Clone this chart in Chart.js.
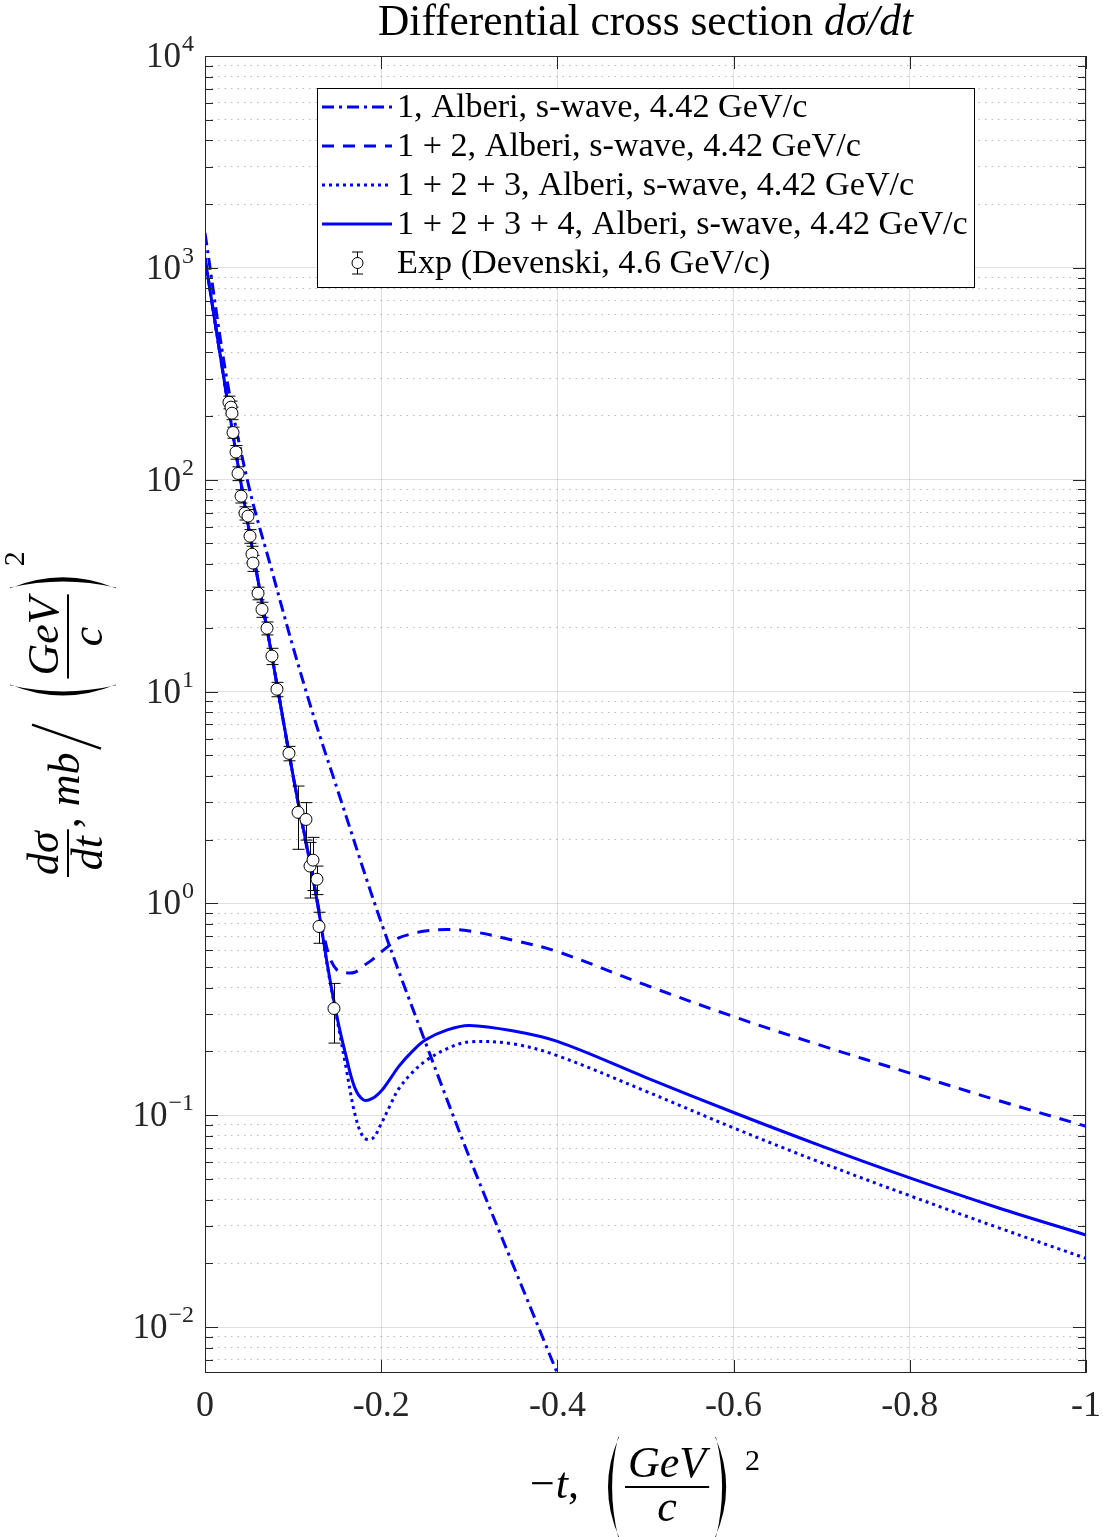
<!DOCTYPE html>
<html lang="en">
<head>
<meta charset="UTF-8">
<title>Differential cross section</title>
<script src="https://cdn.jsdelivr.net/npm/chart.js"></script>
<style>
  body { margin: 0; background: #fff; }
  #grafico { display: block; }
</style>
</head>
<body>
<canvas id="grafico" width="1103" height="1537"></canvas>
<script>
// -t grid for the summed curves
const tCurva = [0, -0.025, -0.05, -0.075, -0.1, -0.125, -0.14, -0.15, -0.16, -0.17, -0.18, -0.19,
                -0.2, -0.21, -0.22, -0.235, -0.25, -0.275, -0.3, -0.35, -0.4,
                -0.5, -0.6, -0.7, -0.8, -0.9, -1.0];
const soma12 = [1112, 243, 57.5, 15.5, 4.0, 1.16, 0.58, 0.483, 0.47, 0.473, 0.507, 0.543,
                0.59, 0.637, 0.687, 0.719, 0.741, 0.753, 0.741, 0.670, 0.592,
                0.412, 0.292, 0.213, 0.158, 0.1175, 0.0887];
const soma123 = [1112, 243, 57.5, 15.5, 4.0, 1.16, 0.475, 0.283, 0.169, 0.102, 0.0785, 0.0776,
                 0.0912, 0.111, 0.1334, 0.1585, 0.180, 0.2065, 0.222, 0.217, 0.191,
                 0.130, 0.0871, 0.0596, 0.0417, 0.0295, 0.0211];
const soma1234 = [1112, 243, 57.5, 15.5, 4.0, 1.16, 0.483, 0.289, 0.191, 0.135, 0.118, 0.120,
                  0.130, 0.148, 0.170, 0.1995, 0.2265, 0.253, 0.2655, 0.250, 0.223,
                  0.151, 0.103, 0.0715, 0.0506, 0.0366, 0.0272];

// term 1 alone (dash-dot), own grid
const tTermo1 = [0, -0.025, -0.05, -0.075, -0.1, -0.125, -0.15, -0.2, -0.25, -0.3, -0.35, -0.4, -0.42];
const termo1 = [1459, 295, 92, 38.4, 16.2, 7.26, 3.48, 0.813, 0.222, 0.0634, 0.0195, 0.00604, 0.0038];

// Devenski data
const expT = [-0.0272, -0.0295, -0.0306, -0.0318, -0.0352, -0.0375, -0.0409, -0.0454, -0.0488, -0.0511,
              -0.0533, -0.0545, -0.0602, -0.0647, -0.0704, -0.0760, -0.0817, -0.0953, -0.1056, -0.1146,
              -0.1192, -0.1226, -0.1271, -0.1294, -0.1464];
const expVal = [232, 220, 206, 167, 135, 107, 83.6, 69.5, 67.3, 54.1,
                44.5, 40.4, 29.1, 24.4, 19.9, 14.7, 10.25, 5.11, 2.69, 2.49,
                1.50, 1.60, 1.30, 0.778, 0.319];
const expErr = [16, 15, 14, 10, 10, 8, 6, 5, 5, 4,
                4, 3.5, 2, 2, 1.4, 1.3, 0.8, 0.4, 0.89, 0.5,
                0.44, 0.45, 0.2, 0.13, 0.1];

// axes
const xTicks = [0, -0.2, -0.4, -0.6, -0.8, -1];
const yExpoentes = [-2, -1, 0, 1, 2, 3, 4];
const yMin = 0.00607, yMax = 10000;

const fonte = '"Liberation Serif", "DejaVu Serif", serif';
function fnt(size, italic) { return (italic ? 'italic ' : '') + size + 'px ' + fonte; }
const eixoCor = '#262626';

function ehDecada(v) {
  const l = Math.log10(v);
  return Math.abs(l - Math.round(l)) < 1e-6;
}

const yTicks = [];
for (let e = -3; e <= 3; e++) {
  for (let m = 1; m <= 9; m++) {
    const v = m * Math.pow(10, e);
    if (v >= yMin && v <= yMax) yTicks.push(v);
  }
}
yTicks.push(10000);

function pares(ts, vs) { return ts.map((t, i) => ({ x: t, y: vs[i] })); }

const supers = { '-': '\u2212' };
function supTxt(e) { return String(e).split('').map(c => supers[c] || c).join(''); }

// parenthesis shape (crescent), dir 1 = "(", -1 = ")"
function parentese(ctx, x, cy, h, w, dir) {
  const top = cy - h / 2, bot = cy + h / 2;
  ctx.beginPath();
  ctx.moveTo(x, top);
  ctx.quadraticCurveTo(x - dir * 2 * w, cy, x, bot);
  ctx.lineTo(x - dir * 0.8, bot);
  ctx.quadraticCurveTo(x - dir * (2 * w - 9), cy, x - dir * 0.8, top);
  ctx.closePath();
  ctx.fill();
}

// GeV over c, horizontally; barY = fraction bar
function fracGeV(ctx, x0, barY, size) {
  ctx.font = fnt(size, true);
  const wn = ctx.measureText('GeV').width;
  const wd = ctx.measureText('c').width;
  const fw = Math.max(wn, wd) + 6;
  ctx.textAlign = 'center';
  ctx.fillText('GeV', x0 + fw / 2, barY - 10);
  ctx.fillText('c', x0 + fw / 2, barY + 34);
  ctx.fillRect(x0, barY - 1, fw, 2);
  ctx.textAlign = 'left';
  return fw;
}

const decoracao = {
  id: 'decoracao',
  beforeDatasetDraw(chart, args) {
    const ds = chart.data.datasets[args.index];
    if (!ds.barras) return;
    const ctx = chart.ctx, xs = chart.scales.x, ys = chart.scales.y;
    ctx.save();
    ctx.strokeStyle = '#000';
    ctx.lineWidth = 1;
    ds.barras.forEach(b => {
      const x = Math.round(xs.getPixelForValue(b.x)) + 0.5;
      const y1 = ys.getPixelForValue(b.y + b.e);
      const y2 = ys.getPixelForValue(b.y - b.e);
      ctx.beginPath();
      ctx.moveTo(x, y1); ctx.lineTo(x, y2);
      ctx.moveTo(x - 6, y1); ctx.lineTo(x + 6, y1);
      ctx.moveTo(x - 6, y2); ctx.lineTo(x + 6, y2);
      ctx.stroke();
    });
    ctx.restore();
  },
  afterDraw(chart) {
    const ctx = chart.ctx, a = chart.chartArea, xs = chart.scales.x, ys = chart.scales.y;
    ctx.save();
    // box and inward ticks
    ctx.strokeStyle = eixoCor;
    ctx.lineWidth = 1;
    ctx.strokeRect(a.left + 0.5, a.top + 0.5, a.right - a.left - 1, a.bottom - a.top - 1);
    ctx.beginPath();
    yTicks.forEach(v => {
      const y = Math.round(ys.getPixelForValue(v)) + 0.5;
      const len = ehDecada(v) ? 13 : 8;
      ctx.moveTo(a.left, y); ctx.lineTo(a.left + len, y);
      ctx.moveTo(a.right, y); ctx.lineTo(a.right - len, y);
    });
    xTicks.forEach(v => {
      const x = Math.round(xs.getPixelForValue(v)) + 0.5;
      ctx.moveTo(x, a.bottom); ctx.lineTo(x, a.bottom - 13);
      ctx.moveTo(x, a.top); ctx.lineTo(x, a.top + 13);
    });
    ctx.stroke();

    // y tick labels 10^n
    ctx.fillStyle = eixoCor;
    ctx.textBaseline = 'alphabetic';
    ctx.textAlign = 'left';
    yExpoentes.forEach(e => {
      const y = ys.getPixelForValue(Math.pow(10, e));
      const s = supTxt(e);
      ctx.font = fnt(24, false);
      const ws = ctx.measureText(s).width;
      ctx.font = fnt(35, false);
      const w10 = ctx.measureText('10').width;
      const x0 = 194 - ws - w10 - 1;
      ctx.fillText('10', x0, y + 11);
      ctx.font = fnt(24, false);
      ctx.fillText(s, x0 + w10 + 1, y - 5);
    });

    // title
    ctx.fillStyle = '#000';
    const t1 = 'Differential cross section ', t2 = 'd\u03c3/dt';
    ctx.font = fnt(36, false);
    let w1 = ctx.measureText(t1).width;
    ctx.font = fnt(36, true);
    let w2 = ctx.measureText(t2).width;
    const ts = 36 * 535 / (w1 + w2);
    ctx.font = fnt(ts, false); w1 = ctx.measureText(t1).width;
    ctx.font = fnt(ts, true); w2 = ctx.measureText(t2).width;
    let tx = 645.5 - (w1 + w2) / 2;
    ctx.font = fnt(ts, false); ctx.fillText(t1, tx, 35);
    ctx.font = fnt(ts, true); ctx.fillText(t2, tx + w1, 35);

    // x label: -t, (GeV/c)^2
    const ls = 44;
    const barX = 1487;
    ctx.font = fnt(ls, false);
    ctx.fillText('\u2212', 530, barX + 11);
    let px = 530 + ctx.measureText('\u2212').width;
    ctx.font = fnt(ls, true);
    ctx.fillText('t', px + 1, barX + 11);
    px += ctx.measureText('t').width + 1;
    ctx.font = fnt(ls, false);
    ctx.fillText(',', px, barX + 11);
    parentese(ctx, 619, barX, 100, 11, 1);
    const fwx = fracGeV(ctx, 625, barX, ls);
    parentese(ctx, 625 + fwx + 6, barX, 100, 11, -1);
    ctx.font = fnt(30, false);
    ctx.fillText('2', 745, 1470);

    // y label (rotated)
    ctx.save();
    ctx.translate(68, 877);
    ctx.rotate(-Math.PI / 2);
    ctx.font = fnt(ls, true);
    const wn = Math.max(ctx.measureText('d\u03c3').width, ctx.measureText('dt').width) + 4;
    ctx.textAlign = 'center';
    ctx.fillText('d\u03c3', wn / 2, -10);
    ctx.fillText('dt', wn / 2, 34);
    ctx.fillRect(0, -1, wn, 2);
    ctx.textAlign = 'left';
    let u = wn + 1;
    ctx.font = fnt(ls, false);
    ctx.fillText(',', u, 11);
    u += ctx.measureText(', ').width;
    ctx.font = fnt(ls, true);
    ctx.fillText('mb', u, 11);
    u += ctx.measureText('mb').width + 4;
    ctx.lineWidth = 2.4;
    ctx.strokeStyle = '#000';
    ctx.beginPath();
    ctx.moveTo(u, 33); ctx.lineTo(u + 24, -36);
    ctx.stroke();
    u += 46;
    parentese(ctx, u + 18, -5, 106, 11, 1);
    const fwy = fracGeV(ctx, u + 24, 0, ls);
    parentese(ctx, u + 24 + fwy + 6, -5, 106, 11, -1);
    ctx.font = fnt(30, false);
    ctx.fillText('2', u + 24 + fwy + 28, -44);
    ctx.restore();

    // legend
    const lx = 317, ly = 88, lw = 657, lh = 199;
    ctx.fillStyle = '#fff';
    ctx.fillRect(lx, ly, lw, lh);
    ctx.strokeStyle = '#000';
    ctx.lineWidth = 1;
    ctx.strokeRect(lx + 0.5, ly + 0.5, lw, lh);
    const ordem = [1, 2, 3, 4, 0];
    const textos = ordem.map(i => chart.data.datasets[i].label);
    ctx.font = fnt(30, false);
    const maior = Math.max(...textos.map(s => ctx.measureText(s).width));
    const fs = 30 * 571 / maior;
    ordem.forEach((i, k) => {
      const ds = chart.data.datasets[i];
      const cy = 107 + k * 39;
      if (ds.barras) {
        ctx.strokeStyle = '#000';
        ctx.lineWidth = 1;
        ctx.setLineDash([]);
        ctx.beginPath();
        ctx.moveTo(357.5, cy - 11); ctx.lineTo(357.5, cy + 11);
        ctx.moveTo(352, cy - 11); ctx.lineTo(363, cy - 11);
        ctx.moveTo(352, cy + 11); ctx.lineTo(363, cy + 11);
        ctx.stroke();
        ctx.fillStyle = '#fff';
        ctx.beginPath();
        ctx.arc(357.5, cy, 5.5, 0, Math.PI * 2);
        ctx.fill(); ctx.stroke();
      } else {
        ctx.strokeStyle = ds.borderColor;
        ctx.lineWidth = ds.borderWidth;
        ctx.setLineDash(ds.borderDash || []);
        ctx.beginPath();
        ctx.moveTo(322, cy); ctx.lineTo(392, cy);
        ctx.stroke();
        ctx.setLineDash([]);
      }
      ctx.fillStyle = '#000';
      ctx.font = fnt(fs, false);
      ctx.fillText(ds.label, 397, cy + 10);
    });
    ctx.restore();
  }
};

const ctx = document.getElementById('grafico');

const linha = {
  borderColor: '#0000ff',
  borderWidth: 3,
  pointRadius: 0,
  tension: 0.35,
  clip: 0
};

new Chart(ctx, {
  type: 'line',
  data: {
    datasets: [
      {
        label: 'Exp (Devenski, 4.6 GeV/c)',
        data: pares(expT, expVal),
        barras: expT.map((t, i) => ({ x: t, y: expVal[i], e: expErr[i] })),
        showLine: false,
        pointRadius: 6,
        pointBackgroundColor: '#fff',
        pointBorderColor: '#000',
        pointBorderWidth: 1,
        order: 0
      },
      Object.assign({}, linha, {
        label: '1, Alberi, s-wave, 4.42 GeV/c',
        data: pares(tTermo1, termo1),
        borderDash: [12, 5, 3, 5],
        order: 4
      }),
      Object.assign({}, linha, {
        label: '1 + 2, Alberi, s-wave, 4.42 GeV/c',
        data: pares(tCurva, soma12),
        borderDash: [12, 9],
        order: 3
      }),
      Object.assign({}, linha, {
        label: '1 + 2 + 3, Alberi, s-wave, 4.42 GeV/c',
        data: pares(tCurva, soma123),
        borderDash: [3, 4],
        order: 2
      }),
      Object.assign({}, linha, {
        label: '1 + 2 + 3 + 4, Alberi, s-wave, 4.42 GeV/c',
        data: pares(tCurva, soma1234),
        order: 1
      })
    ]
  },
  options: {
    responsive: false,
    animation: false,
    devicePixelRatio: 1,
    layout: { padding: { top: 56, right: 17, left: 0, bottom: 0 } },
    plugins: {
      legend: { display: false },
      tooltip: { enabled: false },
      title: { display: false }
    },
    scales: {
      x: {
        type: 'linear',
        min: -1,
        max: 0,
        reverse: true,
        afterBuildTicks: s => { s.ticks = xTicks.map(v => ({ value: v })); },
        afterFit: s => { s.height = 164; s.paddingLeft = 0; s.paddingRight = 0; },
        ticks: {
          color: eixoCor,
          padding: 12,
          maxRotation: 0,
          font: { family: fonte, size: 36 },
          callback: v => (Math.abs(v) < 1e-9 ? '0' : String(Number(v.toFixed(1))))
        },
        grid: { color: 'rgba(0,0,0,0.12)', drawTicks: false, lineWidth: 1 },
        border: { display: false }
      },
      y: {
        type: 'logarithmic',
        min: yMin,
        max: yMax,
        afterBuildTicks: s => { s.ticks = yTicks.map(v => ({ value: v })); },
        afterFit: s => { s.width = 205; },
        ticks: { display: false },
        grid: {
          drawTicks: false,
          lineWidth: 1,
          color: c => (c.tick && ehDecada(c.tick.value) ? 'rgba(0,0,0,0.12)' : 'rgba(0,0,0,0.27)')
        },
        border: {
          display: false,
          dash: c => (c.tick && !ehDecada(c.tick.value) ? [1.5, 5] : [])
        }
      }
    }
  },
  plugins: [decoracao]
});
</script>
</body>
</html>
